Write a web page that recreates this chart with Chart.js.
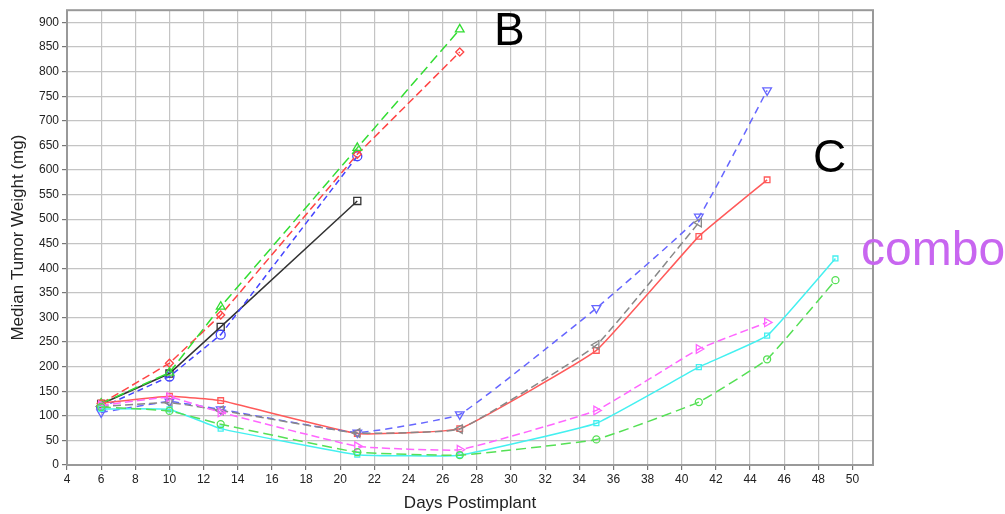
<!DOCTYPE html>
<html><head><meta charset="utf-8">
<script src="https://cdn.jsdelivr.net/npm/chart.js@4.4.1/dist/chart.umd.min.js"></script>
<style>
html,body{margin:0;padding:0;background:#fff;}
#wrap{position:relative;width:1005px;height:514px;}
.lbl{position:absolute;font-family:"Liberation Sans",Arial,sans-serif;line-height:1;}
</style></head><body>
<div id="wrap"><canvas id="c" width="1005" height="514"></canvas>
<div class="lbl" style="left:494px;top:6px;font-size:46px;color:#000">B</div>
<div class="lbl" style="left:813px;top:133px;font-size:46px;color:#000">C</div>
<div class="lbl" style="left:861px;top:225px;font-size:48px;color:#c866f0">combo</div>
</div>
<script>
// Days
const daysB5 = [6,10,13,21,27];
const daysB4 = [6,10,13,21];
const daysC7 = [6,10,13,21,27,35,41];
const daysC8 = [6,10,13,21,27,35,41,45];
const daysC9 = [6,10,13,21,27,35,41,45,49];
// Group B series
const bGreen = [125,188,322,645,886];
const bRed   = [125,207,305,632,840];
const bBlue  = [117,180,265,628];
const bBlack = [124,186,281,537];
// Group C series
const cRed     = [126,140,131,64,74,233,465,580];
const cBlue    = [107,129,113,66,103,319,505,762];
const cGray    = [119,127,111,65,73,244,493];
const cMagenta = [121,138,107,38,31,111,236,290];
const cGreen   = [118,110,83,26,20,52,128,215,376];
const cCyan    = [114,113,74,21,20,85,199,263,420];
const xTicks = [4,6,8,10,12,14,16,18,20,22,24,26,28,30,32,34,36,38,40,42,44,46,48,50];
const yTicks = [0,50,100,150,200,250,300,350,400,450,500,550,600,650,700,750,800,850,900];

const pts = (xs, ys) => xs.map((x,i)=>({x, y: ys[i]}));
function ds(xs, ys, color, style, dash, rot, smooth, r){
  return {data: pts(xs,ys), borderColor: color, pointBorderColor: color, backgroundColor:'rgba(0,0,0,0)',
    pointBackgroundColor:'rgba(255,255,255,0)', pointStyle: style, pointRotation: rot||0,
    pointRadius: r||4.5, pointBorderWidth: 1.3, borderWidth: 1.5, borderDash: dash,
    tension: smooth ? 0.1 : 0};
}
const datasets = [
  ds(daysC9, cGreen, '#55e055', 'circle', [10,5], 0, true, 3.5),
  ds(daysC9, cCyan, '#44f0f0', 'rect', [], 0, true, 3.5),
  ds(daysC8, cMagenta, '#ff66ff', 'triangle', [8,4], 90, true, 5),
  ds(daysC7, cGray, '#888888', 'triangle', [8,4], 270, true, 5),
  ds(daysC8, cBlue, '#6666ff', 'triangle', [7,5], 180, true, 5),
  ds(daysC8, cRed, '#ff5a5a', 'rect', [], 0, true, 4),
  ds(daysB5, bGreen, '#33dd33', 'triangle', [10,5], 0, false, 5),
  ds(daysB5, bRed, '#ff4444', 'rectRot', [8,4], 0, false, 4),
  ds(daysB4, bBlue, '#4444ff', 'circle', [6,4], 0, false, 4.5),
  ds(daysB4, bBlack, '#333333', 'rect', [], 0, false, 5),
];
const frame = {id:'frame', afterDraw(ch){
  const a = ch.chartArea, c = ch.ctx; c.save(); c.strokeStyle='#999'; c.lineWidth=2; c.setLineDash([]);
  c.strokeRect(a.left, a.top, a.right-a.left, a.bottom-a.top); c.restore(); }};
const tickFont = {family:'"Liberation Sans Narrow","Liberation Sans",Arial,sans-serif', size:12};
new Chart(document.getElementById('c'), {
  type:'line',
  data:{datasets},
  options:{
    responsive:false, animation:false, events:[],
    layout:{padding:{top:8,right:132,left:8,bottom:0}},
    plugins:{legend:{display:false}, tooltip:{enabled:false}},
    scales:{
      x:{type:'linear', min:4, max:51.2,
        afterBuildTicks(s){ s.ticks = xTicks.map(v=>({value:v})); },
        afterFit(s){ s.height = 49; },
        grid:{color:'#c4c4c4', lineWidth:1.2, borderDash:[4,3], tickLength:5, tickColor:'#777', tickBorderDash:[]},
        border:{display:false},
        ticks:{color:'#222', font:tickFont, padding:2, maxRotation:0, autoSkip:false},
        title:{display:true, text:'Days Postimplant', color:'#222', font:{family:'"Liberation Sans",Arial,sans-serif', size:17}, padding:{top:4,bottom:0}}
      },
      y:{type:'linear', min:0, max:925,
        afterBuildTicks(s){ s.ticks = yTicks.map(v=>({value:v})); },
        afterFit(s){ s.width = 59; },
        grid:{color:'#c4c4c4', lineWidth:1.2, borderDash:[4,3], tickLength:5, tickColor:'#777', tickBorderDash:[]},
        border:{display:false},
        ticks:{color:'#222', font:tickFont, padding:3, autoSkip:false},
        title:{display:true, text:'Median Tumor Weight (mg)', color:'#222', font:{family:'"Liberation Sans",Arial,sans-serif', size:17}, padding:{top:0,bottom:4}}
      }
    }
  },
  plugins:[frame]
});
</script></body></html>
